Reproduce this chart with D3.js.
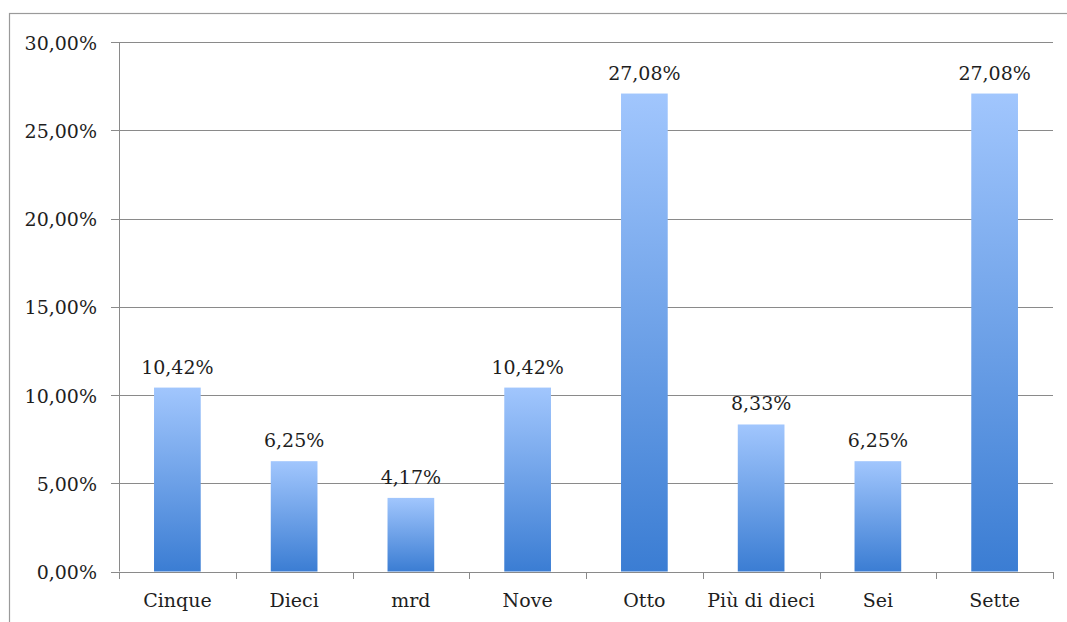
<!DOCTYPE html>
<html>
<head>
<meta charset="utf-8">
<script src="https://cdn.jsdelivr.net/npm/d3@7/dist/d3.min.js"></script>
<style>
  html, body { margin: 0; padding: 0; background: #fff; }
  svg { display: block; }
  text { font-family: "DejaVu Serif", "Liberation Serif", "Noto Serif", serif; fill: #1e1e1e; }
</style>
</head>
<body>
<svg id="chart" width="1067" height="622"></svg>
<script>
// Categories and their shares (percent)
const categories = ["Cinque", "Dieci", "mrd", "Nove", "Otto", "Più di dieci", "Sei", "Sette"];
const values = [10.42, 6.25, 4.17, 10.42, 27.08, 8.33, 6.25, 27.08];
const yTicks = [0, 5, 10, 15, 20, 25, 30];

const fmt = v => v.toFixed(2).replace(".", ",") + "%";

const svg = d3.select("#chart");
const margin = { left: 119, right: 14, top: 42, bottom: 50 };
const W = 1067, H = 622;
const plotBottom = 571.5;
const fontSize = 19;

// Outer frame
svg.append("rect")
  .attr("x", 9.5).attr("y", 13.5)
  .attr("width", 1200).attr("height", 800)
  .attr("fill", "none").attr("stroke", "#9a9a9a").attr("stroke-width", 1.2);

const x0 = d3.scaleBand().domain(categories).range([margin.left, W - margin.right]).padding(0);
const x = d3.scaleBand().domain(categories).range([margin.left, W - margin.right])
  .paddingInner(0.6).paddingOuter(0.3);
const y = d3.scaleLinear().domain([0, 30]).range([plotBottom, margin.top]);

// Bar gradient: light at top, deeper blue at bottom
const defs = svg.append("defs");
const grad = defs.append("linearGradient").attr("id", "barGrad")
  .attr("x1", 0).attr("y1", 0).attr("x2", 0).attr("y2", 1);
grad.append("stop").attr("offset", "0%").attr("stop-color", "#a1c6fd");
grad.append("stop").attr("offset", "100%").attr("stop-color", "#3b7dd3");

// Horizontal gridlines with left ticks
const grid = svg.append("g");
grid.selectAll("line").data(yTicks.slice(1)).join("line")
  .attr("x1", margin.left - 8).attr("x2", W - margin.right)
  .attr("y1", d => Math.round(y(d)) + 0.5).attr("y2", d => Math.round(y(d)) + 0.5)
  .attr("stroke", "#8a8a8a").attr("stroke-width", 1);

// Y axis labels
svg.append("g").selectAll("text").data(yTicks).join("text")
  .attr("x", 97).attr("y", d => y(d)).attr("dy", "0.4em")
  .attr("text-anchor", "end").attr("font-size", fontSize)
  .text(d => fmt(d));

// Bars
svg.append("g").selectAll("rect").data(values).join("rect")
  .attr("x", (d, i) => x(categories[i]))
  .attr("width", x.bandwidth())
  .attr("y", d => y(d))
  .attr("height", d => y(0) - y(d))
  .attr("fill", "url(#barGrad)");

// Value labels
svg.append("g").selectAll("text").data(values).join("text")
  .attr("x", (d, i) => x(categories[i]) + x.bandwidth() / 2)
  .attr("y", d => y(d) - 14)
  .attr("text-anchor", "middle").attr("font-size", fontSize)
  .text(d => fmt(d));

// Axes lines
const axis = svg.append("g").attr("stroke", "#8a8a8a").attr("stroke-width", 1);
axis.append("line")
  .attr("x1", margin.left + 0.5).attr("x2", margin.left + 0.5)
  .attr("y1", y(30)).attr("y2", plotBottom);
axis.append("line")
  .attr("x1", margin.left - 8).attr("x2", W - margin.right)
  .attr("y1", Math.round(plotBottom) + 0.5).attr("y2", Math.round(plotBottom) + 0.5);
// Category separator ticks
const bounds = categories.map(c => x0(c)).concat([W - margin.right]);
axis.selectAll("line.tick").data(bounds).join("line").attr("class", "tick")
  .attr("x1", d => Math.round(d) + 0.5).attr("x2", d => Math.round(d) + 0.5)
  .attr("y1", Math.round(plotBottom)).attr("y2", Math.round(plotBottom) + 7);

// Category labels
svg.append("g").selectAll("text").data(categories).join("text")
  .attr("x", d => x(d) + x.bandwidth() / 2)
  .attr("y", 607)
  .attr("text-anchor", "middle").attr("font-size", fontSize)
  .text(d => d);
</script>
</body>
</html>
